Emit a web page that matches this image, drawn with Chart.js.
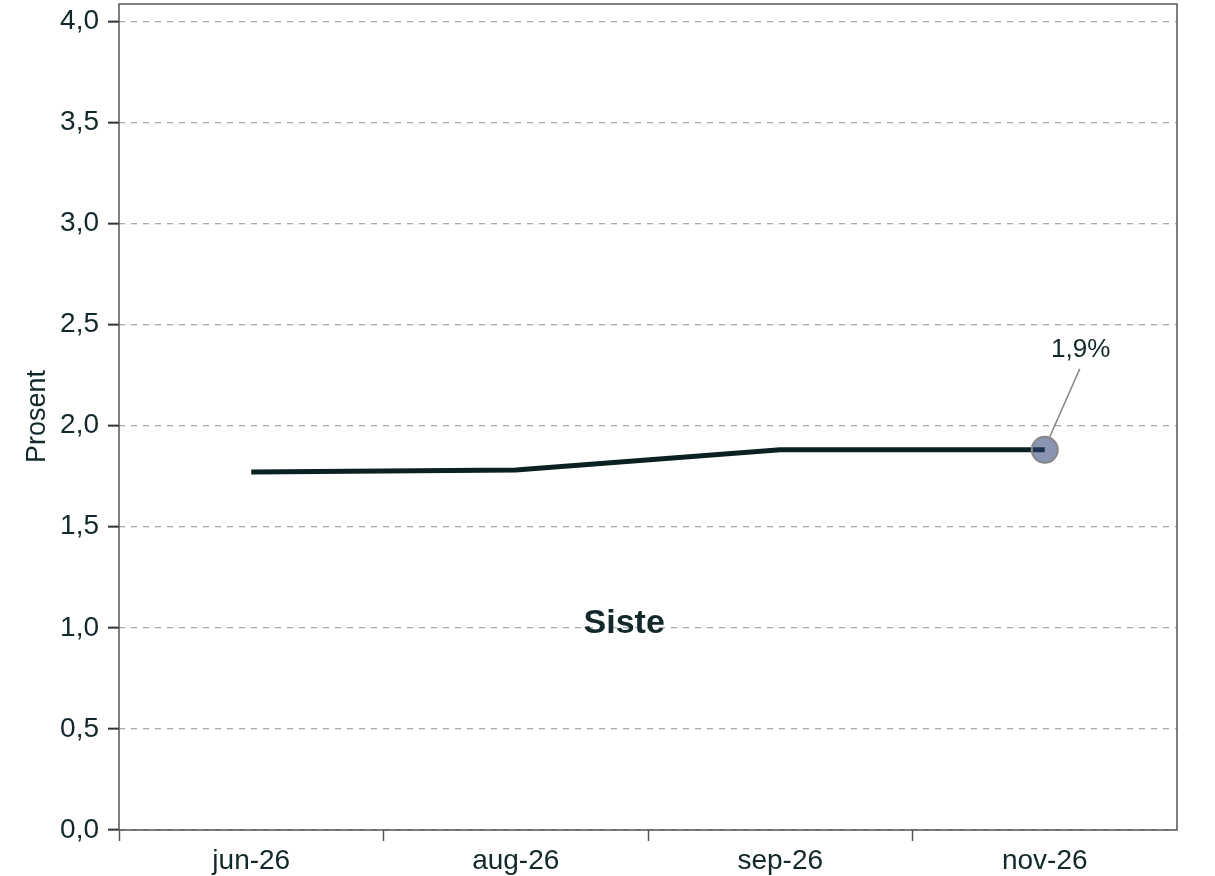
<!DOCTYPE html>
<html>
<head>
<meta charset="utf-8">
<script src="https://cdn.jsdelivr.net/npm/chart.js@4/dist/chart.umd.min.js"></script>
<style>
  html, body { margin: 0; padding: 0; background: #fff; }
  #wrap { width: 1215px; height: 876px; }
</style>
</head>
<body>
<div id="wrap"><canvas id="chart"></canvas></div>
<script>
const labels = ['jun-26', 'aug-26', 'sep-26', 'nov-26'];
const values = [1.77, 1.78, 1.88, 1.88];
const lastLabel = '1,9%';
const centerText = 'Siste';
const yTitle = 'Prosent';

const FONT = "'Liberation Sans', Arial, sans-serif";
const TEXT = '#13282a';

// frame, axis title, label on last point and the "Siste" text
const extras = {
    id: 'extras',
    afterDraw(chart) {
        const ctx = chart.ctx;
        const a = chart.chartArea;
        const x = chart.scales.x, y = chart.scales.y;
        ctx.save();
        ctx.strokeStyle = '#555';
        ctx.lineWidth = 1.5;
        ctx.strokeRect(a.left, a.top, a.right - a.left, a.bottom - a.top);

        ctx.fillStyle = TEXT;
        ctx.textAlign = 'center';
        ctx.textBaseline = 'middle';
        ctx.font = '27px ' + FONT;
        ctx.save();
        ctx.translate(38, y.getPixelForValue(2.0) - 9);
        ctx.rotate(-Math.PI / 2);
        ctx.fillText(yTitle, 0, 0);
        ctx.restore();

        const last = values.length - 1;
        const px = x.getPixelForValue(last);
        const py = y.getPixelForValue(values[last]);
        ctx.strokeStyle = '#888';
        ctx.lineWidth = 1.5;
        ctx.beginPath();
        ctx.moveTo(px + 5, py - 13);
        ctx.lineTo(px + 35, py - 81);
        ctx.stroke();
        ctx.font = '26px ' + FONT;
        ctx.textBaseline = 'alphabetic';
        ctx.fillText(lastLabel, px + 36, py - 93);

        ctx.font = 'bold 34px ' + FONT;
        ctx.fillText(centerText, x.getPixelForValue(1.41), y.getPixelForValue(1.0) + 5);
        ctx.restore();
    }
};

new Chart(document.getElementById('chart'), {
    type: 'line',
    data: {
        labels: labels,
        datasets: [{
            data: values,
            borderColor: '#0b2020',
            borderWidth: 5,
            tension: 0,
            pointRadius: values.map((v, i) => i === values.length - 1 ? 13 : 0),
            pointHoverRadius: 0,
            pointBackgroundColor: 'rgba(46,65,119,0.56)',
            pointBorderColor: '#888',
            pointBorderWidth: 2
        }]
    },
    options: {
        responsive: true,
        maintainAspectRatio: false,
        animation: false,
        events: [],
        layout: { autoPadding: false, padding: { left: 0, top: 4, right: 38, bottom: 0 } },
        plugins: { legend: { display: false }, tooltip: { enabled: false } },
        scales: {
            x: {
                offset: true,
                grid: {
                    offset: true,
                    drawOnChartArea: false,
                    tickLength: 11,
                    tickWidth: 1.5,
                    tickColor: ctx => ctx.tick ? '#555' : 'rgba(0,0,0,0)'
                },
                border: { display: false },
                ticks: {
                    color: TEXT,
                    font: { family: FONT, size: 28 },
                    padding: 3,
                    maxRotation: 0
                },
                afterFit(scale) {
                    scale.height = 46;
                }
            },
            y: {
                min: 0,
                max: 4.085,
                grid: {
                    color: '#aaa',
                    lineWidth: 1.3,
                    tickLength: 11,
                    tickWidth: 2,
                    tickColor: '#333',
                    tickBorderDash: []
                },
                border: { display: false, dash: [6, 6] },
                ticks: {
                    stepSize: 0.5,
                    includeBounds: false,
                    color: TEXT,
                    font: { family: FONT, size: 28 },
                    padding: 9,
                    callback: v => v.toFixed(1).replace('.', ',')
                },
                afterFit(scale) {
                    scale.width = 119;
                    scale.paddingTop = 0;
                    scale.paddingBottom = 0;
                }
            }
        }
    },
    plugins: [extras]
});
</script>
</body>
</html>
